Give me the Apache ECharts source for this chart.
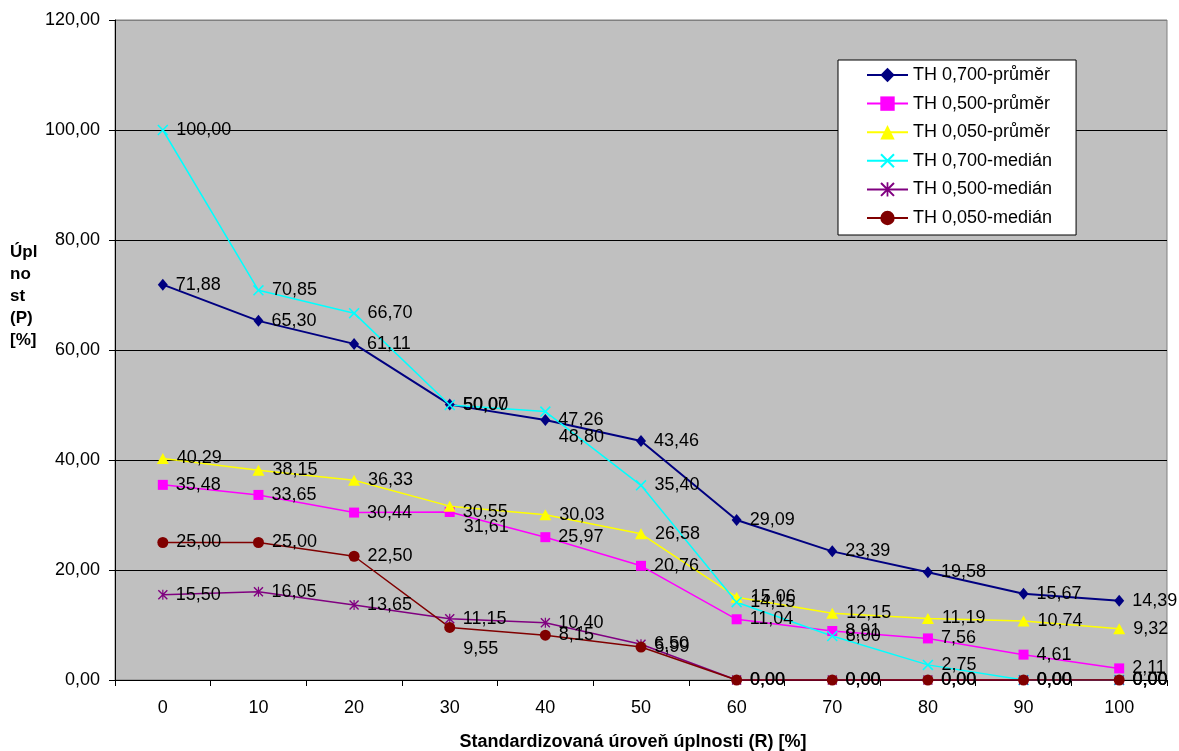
<!DOCTYPE html>
<html>
<head>
<meta charset="utf-8">
<script src="https://cdn.jsdelivr.net/npm/echarts@6/dist/echarts.min.js"></script>
<style>
  html, body { margin: 0; padding: 0; background: #ffffff; }
  #chart { width: 1179px; height: 751px; }
</style>
</head>
<body>
<div id="chart"></div>
<script>
// Standardizovaná úroveň úplnosti (R) [%]
const categories = ['0', '10', '20', '30', '40', '50', '60', '70', '80', '90', '100'];

// Úplnost (P) [%] per threshold
const th700Prumer = [71.88, 65.30, 61.11, 50.07, 47.26, 43.46, 29.09, 23.39, 19.58, 15.67, 14.39];
const th500Prumer = [35.48, 33.65, 30.44, 30.55, 25.97, 20.76, 11.04, 8.91, 7.56, 4.61, 2.11];
const th050Prumer = [40.29, 38.15, 36.33, 31.61, 30.03, 26.58, 15.06, 12.15, 11.19, 10.74, 9.32];
const th700Median = [100.00, 70.85, 66.70, 50.00, 48.80, 35.40, 14.15, 8.00, 2.75, 0.00, 0.00];
const th500Median = [15.50, 16.05, 13.65, 11.15, 10.40, 6.50, 0.00, 0.00, 0.00, 0.00, 0.00];
const th050Median = [25.00, 25.00, 22.50, 9.55, 8.15, 5.99, 0.00, 0.00, 0.00, 0.00, 0.00];

// value axis ticks
const yMin = 0;
const yMax = 120;
const yStep = 20;

const FONT = '"Liberation Sans", Arial, sans-serif';
const FS = 18;
const fmt = v => v.toFixed(2).replace('.', ',');

// marker shapes: "x" cross and asterisk drawn as filled bars
const CROSS = 'path://M0,1 L1,0 L10,9 L9,10 Z M9,0 L10,1 L1,10 L0,9 Z';
const STAR = 'path://M0,1 L1,0 L10,9 L9,10 Z M9,0 L10,1 L1,10 L0,9 Z M4.4,0 L5.6,0 L5.6,10 L4.4,10 Z';

const seriesDefs = [
  { name: 'TH 0,700-průměr', data: th700Prumer, color: '#000080', symbol: 'diamond', size: [10, 12], width: 2 },
  { name: 'TH 0,500-průměr', data: th500Prumer, color: '#FF00FF', symbol: 'rect', size: 10, width: 1.5 },
  { name: 'TH 0,050-průměr', data: th050Prumer, color: '#FFFF00', symbol: 'triangle', size: [12, 11], width: 1.5 },
  { name: 'TH 0,700-medián', data: th700Median, color: '#00FFFF', symbol: CROSS, size: 11, width: 1.5 },
  { name: 'TH 0,500-medián', data: th500Median, color: '#800080', symbol: STAR, size: 10, width: 1.5 },
  { name: 'TH 0,050-medián', data: th050Median, color: '#800000', symbol: 'circle', size: 11, width: 1.5 }
];

// value labels moved below their points where they would collide
const labelDrop = {
  'TH 0,050-průměr': { 3: 21 },
  'TH 0,700-medián': { 4: 25 },
  'TH 0,050-medián': { 3: 22 }
};

const series = seriesDefs.map(def => ({
  name: def.name,
  type: 'line',
  symbol: def.symbol,
  symbolSize: def.size,
  lineStyle: { color: def.color, width: def.width },
  itemStyle: { color: def.color },
  label: {
    show: true,
    position: 'right',
    distance: 8,
    color: '#000000',
    fontSize: FS,
    fontFamily: FONT,
    formatter: p => fmt(p.value)
  },
  data: def.data.map((v, i) => {
    const drop = (labelDrop[def.name] || {})[i];
    return drop ? { value: v, label: { offset: [0, drop] } } : v;
  })
}));

const chart = echarts.init(document.getElementById('chart'), null, { renderer: 'canvas' });
chart.setOption({
  animation: false,
  backgroundColor: '#ffffff',
  textStyle: { fontFamily: FONT },
  grid: {
    left: 115, top: 20, right: 12, bottom: 71,
    outerBoundsMode: 'none',
    containLabel: false,
    show: true, backgroundColor: '#C0C0C0', borderColor: '#808080', borderWidth: 1
  },
  legend: {
    orient: 'vertical',
    left: 838, top: 60,
    backgroundColor: '#ffffff',
    borderColor: '#000000', borderWidth: 1,
    padding: [6, 24, 8, 28],
    itemGap: 10.6,
    itemWidth: 41, itemHeight: 18,
    textStyle: { fontSize: FS, color: '#000000', fontFamily: FONT },
    data: seriesDefs.map(d => d.name)
  },
  xAxis: {
    type: 'category',
    data: categories,
    boundaryGap: true,
    name: 'Standardizovaná úroveň úplnosti (R) [%]',
    nameLocation: 'middle',
    nameGap: 53,
    nameTextStyle: { fontSize: FS, fontWeight: 'bold', color: '#000000', fontFamily: FONT, padding: [0, 16, 0, 0] },
    axisLine: { lineStyle: { color: '#000000', width: 1 } },
    axisTick: { show: true, length: 6, lineStyle: { color: '#000000' } },
    axisLabel: { margin: 19, fontSize: FS, color: '#000000', fontFamily: FONT },
    splitLine: { show: false }
  },
  yAxis: {
    type: 'value',
    min: yMin, max: yMax, interval: yStep,
    axisLine: { show: true, lineStyle: { color: '#000000', width: 1 } },
    axisTick: { show: true, length: 6, lineStyle: { color: '#000000' } },
    axisLabel: { margin: 15, fontSize: FS, color: '#000000', fontFamily: FONT, formatter: v => fmt(v) },
    splitLine: { show: true, lineStyle: { color: ['#000000', '#000000', '#000000', '#000000', '#000000', '#000000', '#808080'], width: 1 } }
  },
  graphic: [{
    type: 'text',
    left: 10, top: 241,
    style: {
      text: 'Úpl\nno\nst\n(P)\n[%]',
      font: 'bold 17px ' + FONT,
      lineHeight: 22,
      fill: '#000000'
    }
  }],
  series: series
});
</script>
</body>
</html>
